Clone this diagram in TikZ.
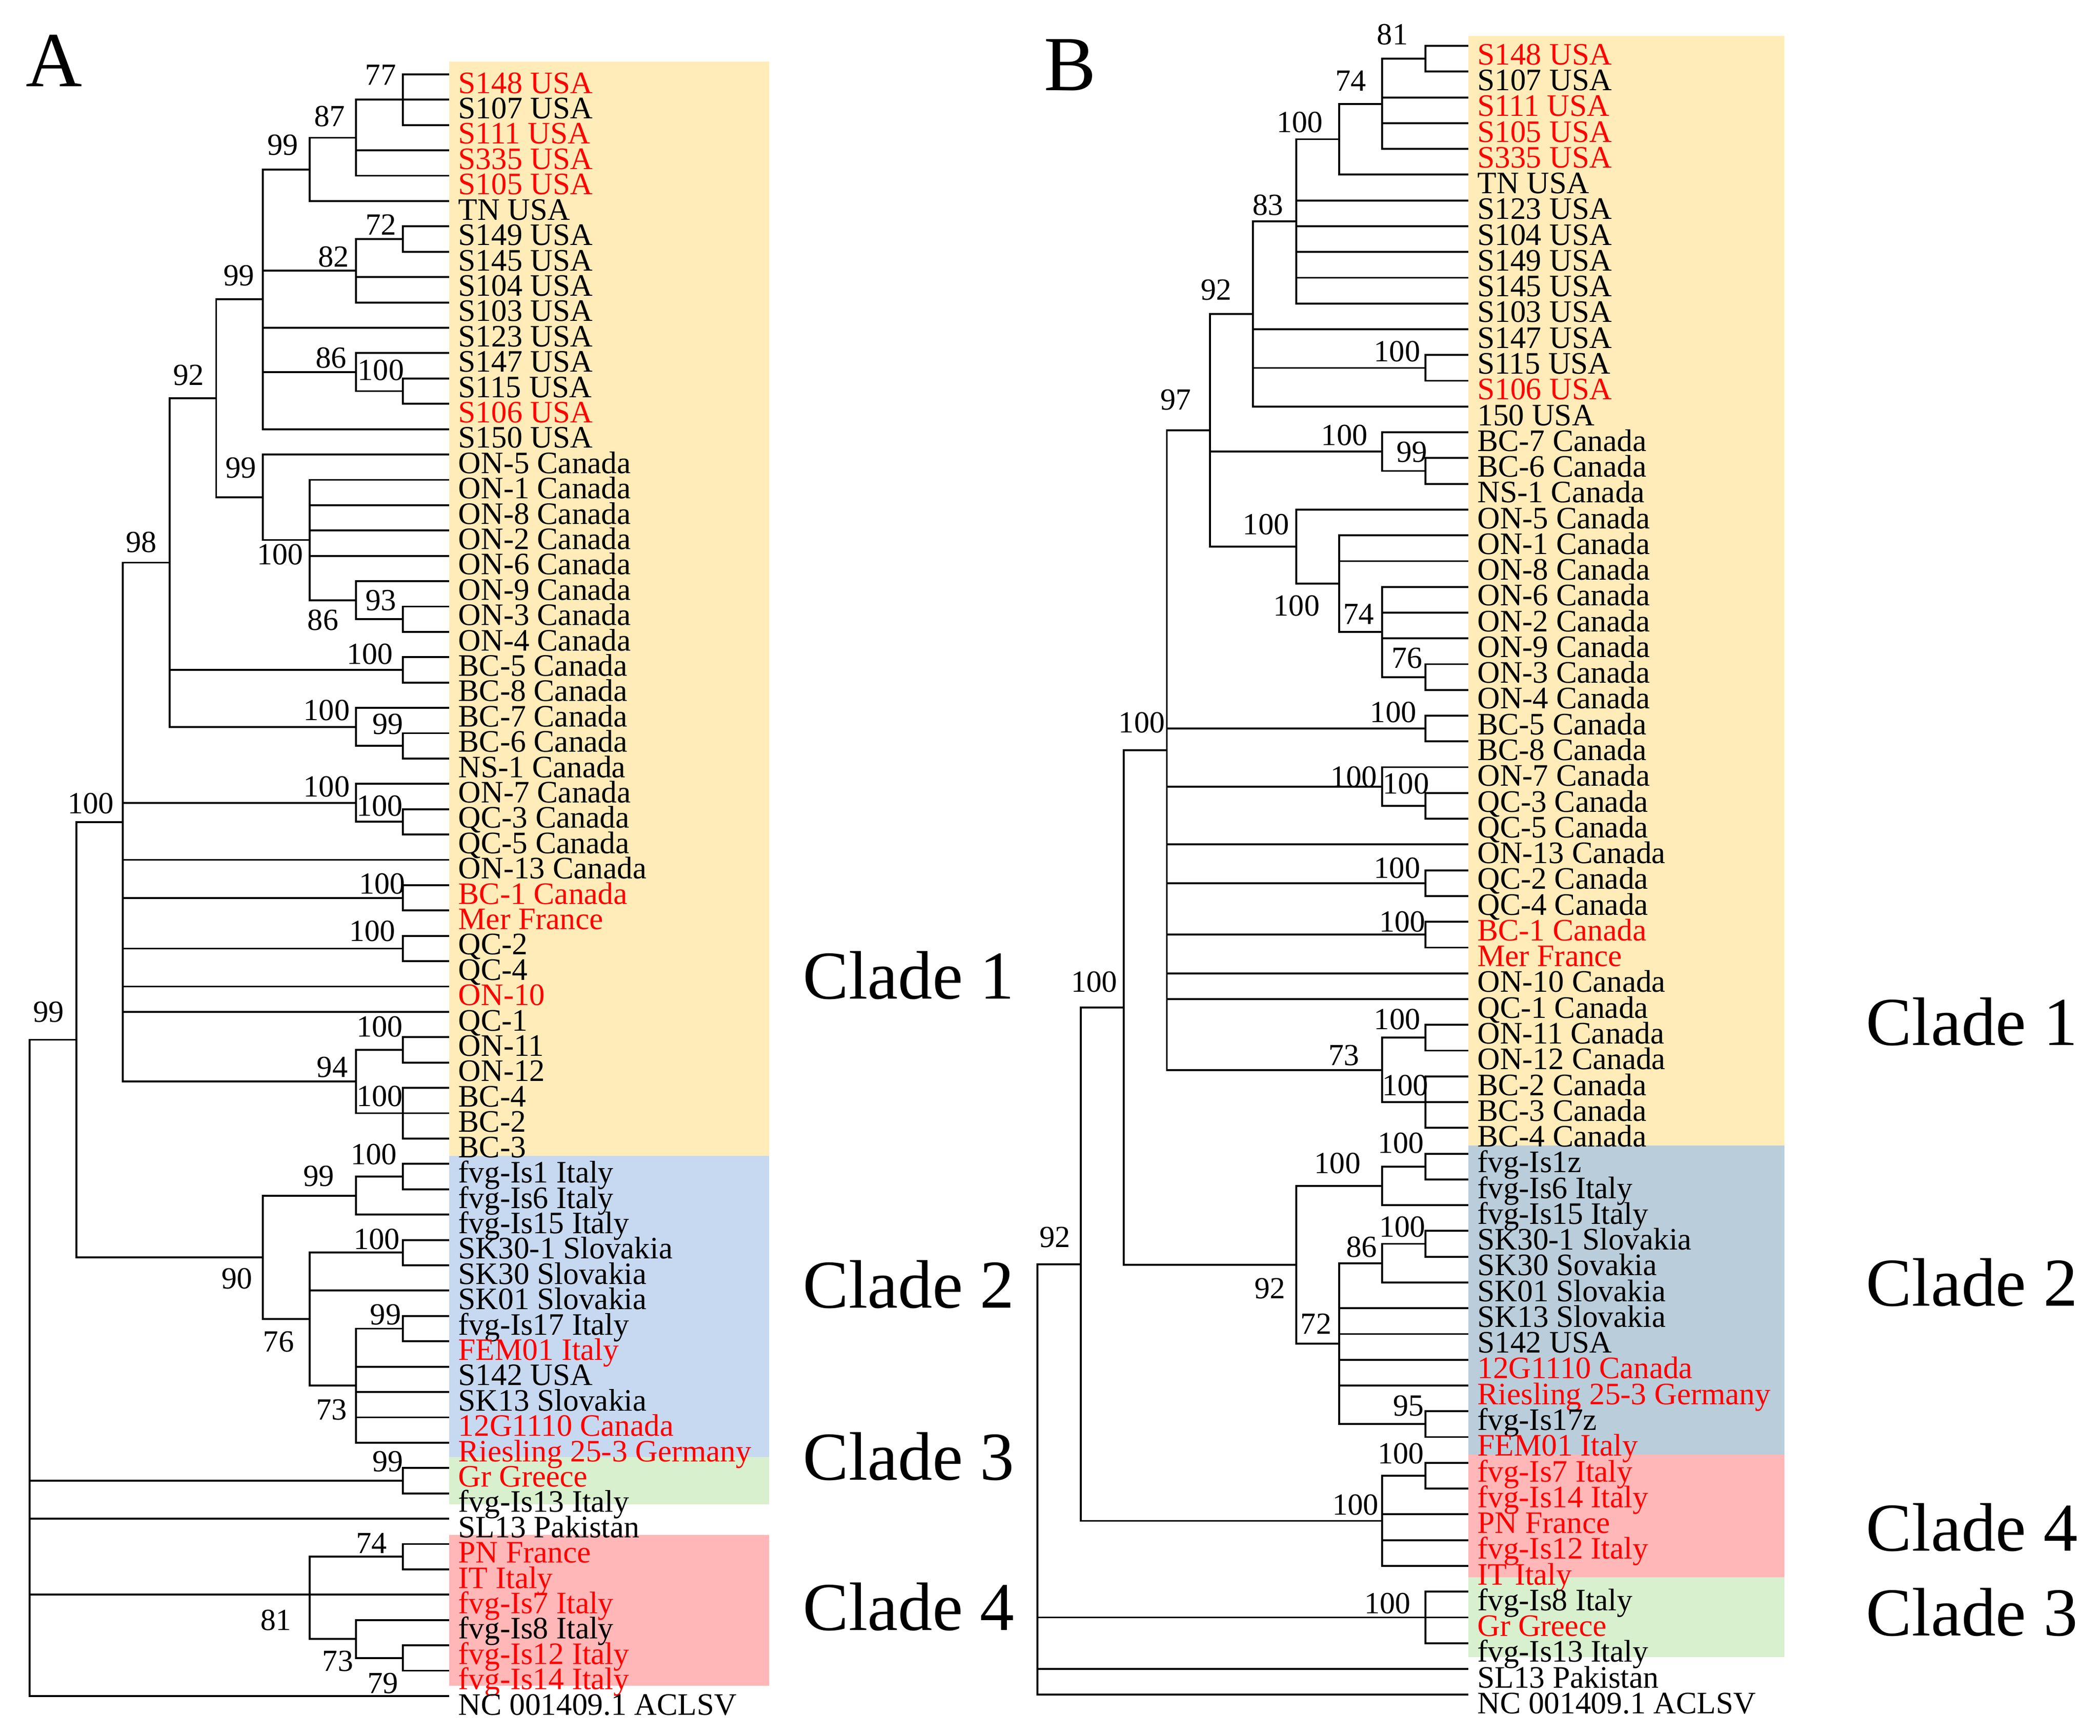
\documentclass[tikz,border=0pt]{standalone}
\usepackage{fontspec}
\setmainfont{Liberation Serif}
\usetikzlibrary{calc}
\definecolor{yelbox}{RGB}{255,236,185}
\definecolor{blubox}{RGB}{198,217,240}
\definecolor{grybox}{RGB}{185,205,218}
\definecolor{grnbox}{RGB}{216,240,206}
\definecolor{pnkbox}{RGB}{255,183,183}
\definecolor{lblred}{RGB}{255,0,0}
\begin{document}
\begin{tikzpicture}[x=0.1mm,y=-0.1mm,
  branch/.style={line width=0.4pt},
  leaf/.style={anchor=base west,inner sep=0pt,font=\fontsize{6.6}{7}\selectfont},
  boot/.style={inner sep=0pt,font=\fontsize{6.5}{7}\selectfont},
  clade/.style={inner sep=0pt,font=\fontsize{14.5}{16}\selectfont},
  panel/.style={inner sep=0pt,font=\fontsize{16.5}{18}\selectfont}]
\def\xA#1{22+34.65*#1} % tree A: depth levels
\def\yA#1{55.3+(#1-1)*18.83} % tree A: rows
\def\xB#1{770.8+32.01*#1}
\def\yB#1{34.1+(#1-1)*19.146}
\useasboundingbox (0,0) rectangle (1560.1,1290.1);
\fill[white] (0,0) rectangle (1560.1,1290.1);
% clade bands
\fill[yelbox] (333.8,45.7) rectangle (571.5,859);
\fill[blubox] (333.8,859) rectangle (571.5,1082.8);
\fill[grnbox] (333.8,1082.8) rectangle (571.5,1118);
\fill[pnkbox] (333.8,1140.5) rectangle (571.5,1252.6);
\fill[yelbox] (1090.9,26.8) rectangle (1325.7,851.2);
\fill[grybox] (1090.9,851.2) rectangle (1325.7,1080.8);
\fill[pnkbox] (1090.9,1080.8) rectangle (1325.7,1172.2);
\fill[grnbox] (1090.9,1172.2) rectangle (1325.7,1231.6);
\node[panel] (pA) at (40.3,45) {A};
\node[panel] (pB) at (795,48.4) {B};
% tree A
\foreach \i/\t/\c in {1/S148 USA/lblred, 2/S107 USA/black, 3/S111 USA/lblred, 4/S335 USA/lblred,
  5/S105 USA/lblred, 6/TN USA/black, 7/S149 USA/black, 8/S145 USA/black, 9/S104 USA/black,
  10/S103 USA/black, 11/S123 USA/black, 12/S147 USA/black, 13/S115 USA/black, 14/S106 USA/lblred,
  15/S150 USA/black, 16/ON-5 Canada/black, 17/ON-1 Canada/black, 18/ON-8 Canada/black,
  19/ON-2 Canada/black, 20/ON-6 Canada/black, 21/ON-9 Canada/black, 22/ON-3 Canada/black,
  23/ON-4 Canada/black, 24/BC-5 Canada/black, 25/BC-8 Canada/black, 26/BC-7 Canada/black,
  27/BC-6 Canada/black, 28/NS-1 Canada/black, 29/ON-7 Canada/black, 30/QC-3 Canada/black,
  31/QC-5 Canada/black, 32/ON-13 Canada/black, 33/BC-1 Canada/lblred, 34/Mer France/lblred,
  35/QC-2/black, 36/QC-4/black, 37/ON-10/lblred, 38/QC-1/black, 39/ON-11/black, 40/ON-12/black,
  41/BC-4/black, 42/BC-2/black, 43/BC-3/black, 44/fvg-Is1 Italy/black, 45/fvg-Is6 Italy/black,
  46/fvg-Is15 Italy/black, 47/SK30-1 Slovakia/black, 48/SK30 Slovakia/black,
  49/SK01 Slovakia/black, 50/fvg-Is17 Italy/black, 51/FEM01 Italy/lblred, 52/S142 USA/black,
  53/SK13 Slovakia/black, 54/12G1110 Canada/lblred, 55/Riesling 25-3 Germany/lblred,
  56/Gr Greece/lblred, 57/fvg-Is13 Italy/black, 58/SL13 Pakistan/black, 59/PN France/lblred,
  60/IT Italy/lblred, 61/fvg-Is7 Italy/lblred, 62/fvg-Is8 Italy/black, 63/fvg-Is12 Italy/lblred,
  64/fvg-Is14 Italy/lblred, 65/NC 001409.1 ACLSV/black}{
  \coordinate (A\i) at ({\xA{9}},{\yA{\i}});
  \node[leaf,text=\c] (tA\i) at ($(A\i)+(6,14)$) {\t};
}
\foreach \n/\l/\r in {nA77/8/2, nA87/7/3.5, nA99a/6/4.75, nA72/8/7.5, nA82/7/8.75,
  nA100b/8/13.5, nA86/7/12.75, nA99b/5/9.875, nA93/8/22.5, nA86b/7/21.75, nA100c/6/19.375,
  nA99c/5/17.6875, nA92/4/13.78, nA100d/8/24.5, nA99d/8/27.5, nA100e/7/26.75, nA98/3/20.27,
  nA100g/8/30.5, nA100f/7/29.75, nA100h/8/33.5, nA100i/8/35.5, nA100j/8/39.5, nA100k/8/42,
  nA94/7/40.75, nA100/2/30.51, nA100l/8/44.5, nA99e/7/45.25, nA100m/8/47.5, nA99f/8/50.5,
  nA73/7/52.75, nA76/6/50.125, nA90/5/47.69, nA99r/1/39.1, nA99g/8/56.5, nA74/8/59.5,
  nA79/8/63.5, nA73b/7/62.75, nA81/6/61, nArt/0/52.05}
  \coordinate (\n) at ({\xA{\l}},{\yA{\r}});
\foreach \p/\c in {nA77/A1, nA77/A3, nA87/nA77, nA87/A2, nA87/A4, nA87/A5, nA99a/nA87, nA99a/A6,
  nA72/A7, nA72/A8, nA82/nA72, nA82/A9, nA82/A10, nA100b/A13, nA100b/A14, nA86/A12, nA86/nA100b,
  nA99b/nA99a, nA99b/nA82, nA99b/A11, nA99b/nA86, nA99b/A15, nA93/A22, nA93/A23,
  nA86b/A21, nA86b/nA93, nA100c/A17, nA100c/A18, nA100c/A19, nA100c/A20, nA100c/nA86b,
  nA99c/A16, nA99c/nA100c, nA92/nA99b, nA92/nA99c, nA100d/A24, nA100d/A25, nA99d/A27, nA99d/A28,
  nA100e/A26, nA100e/nA99d, nA98/nA92, nA98/nA100d, nA98/nA100e, nA100g/A30, nA100g/A31,
  nA100f/A29, nA100f/nA100g, nA100h/A33, nA100h/A34, nA100i/A35, nA100i/A36, nA100j/A39,
  nA100j/A40, nA100k/A41, nA100k/A42, nA100k/A43, nA94/nA100j, nA94/nA100k,
  nA100/nA98, nA100/nA100f, nA100/A32, nA100/nA100h, nA100/nA100i, nA100/A37, nA100/A38,
  nA100/nA94, nA100l/A44, nA100l/A45, nA99e/nA100l, nA99e/A46, nA100m/A47, nA100m/A48,
  nA99f/A50, nA99f/A51, nA73/nA99f, nA73/A52, nA73/A53, nA73/A54, nA73/A55,
  nA76/nA100m, nA76/A49, nA76/nA73, nA90/nA99e, nA90/nA76, nA99r/nA100, nA99r/nA90,
  nA99g/A56, nA99g/A57, nA74/A59, nA74/A60, nA79/A63, nA79/A64, nA73b/A62, nA73b/nA79,
  nA81/nA74, nA81/A61, nA81/nA73b, nArt/nA99r, nArt/nA99g, nArt/A58, nArt/nA81, nArt/A65}
  \draw[branch] (\p) |- (\c);
\foreach \n/\v/\dx/\dy in {nA77/77/-16.4/-18.3, nA87/87/-19.6/-15.9, nA99a/99/-19.9/-18.2,
  nA72/72/-16.2/-10.7, nA82/82/-16.6/-10.2, nA99b/99/-17.8/-17.6, nA86/86/-18.6/-10.5,
  nA100b/100/-16.2/-15.7, nA92/92/-20.6/-17, nA99c/99/-16.3/-22, nA98/98/-21/-15.2,
  nA100c/100/-21.9/10.7, nA93/93/-16.2/-14.1, nA86b/86/-24.6/15, nA100d/100/-24.5/-11.8,
  nA100e/100/-21.9/-12.2, nA99d/99/-11.2/-16.3, nA100f/100/-21.9/-12, nA100/100/-23.8/-14,
  nA100g/100/-17.2/-11.8, nA100h/100/-15.2/-10.3, nA100i/100/-22.7/-13, nA100j/100/-17.2/-17.2,
  nA99r/99/-20.5/-20.7, nA94/94/-17.6/-10.8, nA100k/100/-17.2/-12.8, nA100l/100/-21.6/-16.4,
  nA99e/99/-27.6/-14.5, nA100m/100/-19.2/-9.9, nA90/90/-19.3/15.6, nA99f/99/-12.7/-10.3,
  nA76/76/-22.9/16.7, nA73/73/-18.1/17.8, nA99g/99/-11.2/-14.3, nA74/74/-23.2/-9.8,
  nA81/81/-24.9/18.9, nA73b/73/-13.6/16.6, nA79/79/-14.7/18.8}
  \node[boot] (b\n) at ($(\n)+(\dx,\dy)$) {\v};
% tree B
\foreach \i/\t/\c in {1/S148 USA/lblred, 2/S107 USA/black, 3/S111 USA/lblred, 4/S105 USA/lblred,
  5/S335 USA/lblred, 6/TN USA/black, 7/S123 USA/black, 8/S104 USA/black, 9/S149 USA/black,
  10/S145 USA/black, 11/S103 USA/black, 12/S147 USA/black, 13/S115 USA/black, 14/S106 USA/lblred,
  15/150 USA/black, 16/BC-7 Canada/black, 17/BC-6 Canada/black, 18/NS-1 Canada/black,
  19/ON-5 Canada/black, 20/ON-1 Canada/black, 21/ON-8 Canada/black, 22/ON-6 Canada/black,
  23/ON-2 Canada/black, 24/ON-9 Canada/black, 25/ON-3 Canada/black, 26/ON-4 Canada/black,
  27/BC-5 Canada/black, 28/BC-8 Canada/black, 29/ON-7 Canada/black, 30/QC-3 Canada/black,
  31/QC-5 Canada/black, 32/ON-13 Canada/black, 33/QC-2 Canada/black, 34/QC-4 Canada/black,
  35/BC-1 Canada/lblred, 36/Mer France/lblred, 37/ON-10 Canada/black, 38/QC-1 Canada/black,
  39/ON-11 Canada/black, 40/ON-12 Canada/black, 41/BC-2 Canada/black, 42/BC-3 Canada/black,
  43/BC-4 Canada/black, 44/fvg-Is1z/black, 45/fvg-Is6 Italy/black, 46/fvg-Is15 Italy/black,
  47/SK30-1 Slovakia/black, 48/SK30 Sovakia/black, 49/SK01 Slovakia/black,
  50/SK13 Slovakia/black, 51/S142 USA/black, 52/12G1110 Canada/lblred,
  53/Riesling 25-3 Germany/lblred, 54/fvg-Is17z/black, 55/FEM01 Italy/lblred,
  56/fvg-Is7 Italy/lblred, 57/fvg-Is14 Italy/lblred, 58/PN France/lblred,
  59/fvg-Is12 Italy/lblred, 60/IT Italy/lblred, 61/fvg-Is8 Italy/black, 62/Gr Greece/lblred,
  63/fvg-Is13 Italy/black, 64/SL13 Pakistan/black, 65/NC 001409.1 ACLSV/black}{
  \coordinate (B\i) at ({\xB{10}},{\yB{\i}});
  \node[leaf,text=\c] (tB\i) at ($(B\i)+(6,14)$) {\t};
}
\foreach \n/\l/\r in {nB81/9/1.5, nB74/8/3.25, nB100a/7/4.625, nB83/6/7.8125, nB100b/9/13.5,
  nB92/5/11.406, nB99/9/17.5, nB100c/8/16.75, nB76/9/25.5, nB74b/8/23.75, nB100e/7/21.875,
  nB100d/6/20.4375, nB97/4/15.92, nB100f/9/27.5, nB100j/9/30.5, nB100g/8/29.75, nB100h/9/33.5,
  nB100i/9/35.5, nB100k/9/39.5, nB100l/9/42, nB73/8/40.75, nB100big/3/28.336, nB100m/9/44.5,
  nB100n/8/45.25, nB100o/9/47.5, nB86/8/48.25, nB95/9/54.5, nB72/7/51.375, nB92b/6/48.3125,
  nB100top/2/38.32, nB100q/9/56.5, nB100p/8/58.25, nB92r/1/48.29, nB100r/9/62, nBrt/0/56.65}
  \coordinate (\n) at ({\xB{\l}},{\yB{\r}});
\foreach \p/\c in {nB81/B1, nB81/B2, nB74/nB81, nB74/B3, nB74/B4, nB74/B5, nB100a/nB74, nB100a/B6,
  nB83/nB100a, nB83/B7, nB83/B8, nB83/B9, nB83/B10, nB83/B11, nB100b/B13, nB100b/B14,
  nB92/nB83, nB92/B12, nB92/nB100b, nB92/B15, nB99/B17, nB99/B18, nB100c/B16, nB100c/nB99,
  nB76/B25, nB76/B26, nB74b/B22, nB74b/B23, nB74b/B24, nB74b/nB76, nB100e/B20, nB100e/B21,
  nB100e/nB74b, nB100d/B19, nB100d/nB100e, nB97/nB92, nB97/nB100c, nB97/nB100d,
  nB100f/B27, nB100f/B28, nB100j/B30, nB100j/B31, nB100g/B29, nB100g/nB100j, nB100h/B33,
  nB100h/B34, nB100i/B35, nB100i/B36, nB100k/B39, nB100k/B40, nB100l/B41, nB100l/B42,
  nB100l/B43, nB73/nB100k, nB73/nB100l, nB100big/nB97, nB100big/nB100f, nB100big/nB100g,
  nB100big/B32, nB100big/nB100h, nB100big/nB100i, nB100big/B37, nB100big/B38, nB100big/nB73,
  nB100m/B44, nB100m/B45, nB100n/nB100m, nB100n/B46, nB100o/B47, nB100o/B48, nB86/nB100o,
  nB86/B49, nB95/B54, nB95/B55, nB72/nB86, nB72/B50, nB72/B51, nB72/B52, nB72/B53, nB72/nB95,
  nB92b/nB100n, nB92b/nB72, nB100top/nB100big, nB100top/nB92b, nB100q/B56, nB100q/B57,
  nB100p/nB100q, nB100p/B58, nB100p/B59, nB100p/B60, nB92r/nB100top, nB92r/nB100p,
  nB100r/B61, nB100r/B62, nB100r/B63, nBrt/nB92r, nBrt/nB100r, nBrt/B64, nBrt/B65}
  \draw[branch] (\p) |- (\c);
\foreach \n/\v/\dx/\dy in {nB81/81/-24.4/-18, nB74/74/-23.4/-17, nB100a/100/-29.3/-12.5,
  nB83/83/-20.9/-12.2, nB92/92/-27.3/-18, nB100b/100/-21/-12.4, nB97/97/-25.3/-22.5,
  nB100c/100/-28.1/-12.1, nB99/99/-9.9/-14.2, nB100d/100/-22.3/-16.4, nB100e/100/-31.7/16.4,
  nB74b/74/-17.5/-13.3, nB76/76/-13.7/-14, nB100big/100/-18.6/-20.3, nB100f/100/-23.8/-12,
  nB100g/100/-21.1/-7.3, nB100j/100/-14.4/-16.5, nB100h/100/-21/-11.4, nB100i/100/-17.2/-9.6,
  nB100top/100/-21.9/-19, nB100k/100/-20.9/-13.7, nB73/73/-28.4/-10.9, nB100l/100/-14.9/-12.6,
  nB100m/100/-18.1/-17.5, nB100n/100/-33.3/-16.8, nB100o/100/-17.2/-12.5, nB86/86/-15.4/-11.8,
  nB92r/92/-19/-19.9, nB92b/92/-19.4/17.7, nB72/72/-17.2/-14.6, nB95/95/-12.5/-13.6,
  nB100q/100/-18.1/-16.5, nB100p/100/-19.9/-11.7, nB100r/100/-28.1/-10.3}
  \node[boot] (b\n) at ($(\n)+(\dx,\dy)$) {\v};
% clade names
\node[clade] (cA1) at (675,725) {Clade 1};
\node[clade] (cA2) at (675,954.5) {Clade 2};
\node[clade] (cA3) at (675,1082.5) {Clade 3};
\node[clade] (cA4) at (675,1194) {Clade 4};
\node[clade] (cB1) at (1465,759.5) {Clade 1};
\node[clade] (cB2) at (1465,953) {Clade 2};
\node[clade] (cB4) at (1465,1135) {Clade 4};
\node[clade] (cB3) at (1465,1198) {Clade 3};
\end{tikzpicture}
\end{document}
